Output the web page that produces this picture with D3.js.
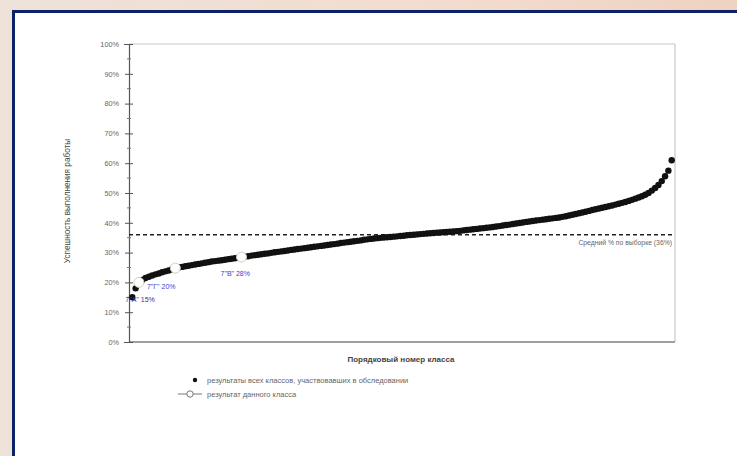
<!DOCTYPE html>
<html><head><meta charset="utf-8">
<script src="https://cdn.jsdelivr.net/npm/d3@7"></script>
<style>
html,body{margin:0;padding:0;}
body{width:737px;height:456px;overflow:hidden;background:#f0ded4;font-family:"Liberation Sans",Arial,sans-serif;}
</style></head>
<body><div id="chart"></div>
<script>
// Sorted results (%) of all classes that took part
const allResults = [
 15.0,18.0,20.0,20.8,21.5,21.9,22.3,22.7,23.0,23.4,23.7,24.0,24.4,24.8,
 25.0,25.2,25.4,25.6,25.8,26.0,26.2,26.4,26.6,26.8,27.0,27.15,27.3,27.45,27.6,27.8,27.95,28.1,28.3,28.5,
 28.65,28.8,29.0,29.15,29.3,29.45,29.6,29.75,29.9,30.1,30.25,30.4,30.55,30.7,30.9,
 31.05,31.2,31.35,31.5,31.65,31.8,31.95,32.1,32.25,32.4,32.55,32.7,32.85,33.0,33.2,
 33.35,33.5,33.65,33.8,33.95,34.1,34.3,34.45,34.6,34.75,
 34.85,34.95,35.05,35.15,35.25,35.35,35.45,35.55,35.65,35.8,
 35.9,36.0,36.1,36.2,36.3,36.4,36.5,36.6,36.7,36.75,36.85,36.95,37.0,37.1,37.2,
 37.3,37.45,37.6,37.7,37.85,37.95,38.1,38.2,38.35,38.45,38.6,
 38.75,38.9,39.1,39.25,39.4,39.6,39.75,39.95,40.1,40.3,
 40.45,40.6,40.75,40.9,41.05,41.2,41.35,41.5,41.65,41.8,
 42.0,42.2,42.45,42.7,42.95,43.2,43.45,43.7,44.0,44.3,
 44.55,44.8,45.05,45.3,45.55,45.8,46.1,46.4,46.7,47.0,
 47.35,47.7,48.1,48.5,48.9,49.4,
 50.0,50.8,51.7,52.7,
 54.0,55.6,57.5,61.0
];
// This school's classes: rank in the sorted list and result
const classRanks  = [3, 14, 34];
const classValues = [20, 24.8, 28.5];
const classLabels = ['7"Г" 20%', '', '7"В" 28%'];
const lowLabel = '7"А" 15%';
const meanValue = 36;
const meanLabel = 'Средний % по выборке (36%)';
const yTicks = [0,10,20,30,40,50,60,70,80,90,100];
const yTitle = 'Успешность выполнения работы';
const xTitle = 'Порядковый номер класса';
const legendItems = ['результаты всех классов, участвовавших в обследовании', 'результат данного класса'];

const W = 737, H = 456;
const svg = d3.select('#chart').append('svg').attr('width', W).attr('height', H);

// background frame
const defs = svg.append('defs');
const grad = defs.append('linearGradient').attr('id','bg').attr('x1',0).attr('x2',1).attr('y1',0).attr('y2',0);
grad.append('stop').attr('offset','0%').attr('stop-color','#eee2da');
grad.append('stop').attr('offset','60%').attr('stop-color','#f3dccf');
grad.append('stop').attr('offset','100%').attr('stop-color','#eed2c2');
svg.append('rect').attr('width',W).attr('height',H).attr('fill','url(#bg)');
svg.append('rect').attr('x',13.5).attr('y',11.5).attr('width',W).attr('height',H).attr('fill','#fff')
  .attr('stroke','#0c2266').attr('stroke-width',3);

const L = 129, R = 675, T = 44, B = 342;
const N = allResults.length;
const x = d3.scaleLinear().domain([0, N + 1]).range([L, R]);
const y = d3.scaleLinear().domain([0, 100]).range([B, T]);

// plot frame
svg.append('line').attr('x1',L).attr('x2',R).attr('y1',T).attr('y2',T).attr('stroke','#c8c8c8').attr('stroke-width',1.2);
svg.append('line').attr('x1',R).attr('x2',R).attr('y1',T).attr('y2',B).attr('stroke','#c8c8c8').attr('stroke-width',1.2);
svg.append('line').attr('x1',L).attr('x2',R).attr('y1',B).attr('y2',B).attr('stroke','#a0a0a0').attr('stroke-width',2);

// y axis
const yAxis = d3.axisLeft(y).tickValues(yTicks).tickFormat(d => d + '%').tickSize(5).tickPadding(5);
const ga = svg.append('g').attr('transform',`translate(${L},0)`).call(yAxis);
ga.select('.domain').attr('stroke','#555').attr('stroke-width',1.2);
ga.selectAll('.tick line').attr('stroke','#555').attr('x2',4).attr('x1',-4);
ga.selectAll('.tick text').attr('fill','#666').attr('font-size',7.3).attr('font-family','"Liberation Sans",Arial');
// minor ticks
svg.append('g').selectAll('line').data(d3.range(5,100,10)).join('line')
  .attr('x1',L-2).attr('x2',L+2).attr('y1',d=>y(d)).attr('y2',d=>y(d)).attr('stroke','#777');

// mean dashed line
svg.append('line').attr('x1',L).attr('x2',R).attr('y1',y(meanValue)).attr('y2',y(meanValue))
  .attr('stroke','#222').attr('stroke-width',1.6).attr('stroke-dasharray','4,3');
svg.append('text').attr('x',R-3).attr('y',y(meanValue)+10).attr('text-anchor','end')
  .attr('font-size',6.8).attr('fill','#666').text(meanLabel);

// all results
svg.append('g').selectAll('circle').data(allResults).join('circle')
  .attr('cx',(d,i)=>x(i+1)).attr('cy',d=>y(d)).attr('r',3.2).attr('fill','#111');

// this school's classes
const cls = classRanks.map((r,i)=>({r, v:classValues[i], label:classLabels[i]}));
svg.append('g').selectAll('circle').data(cls).join('circle')
  .attr('cx',d=>x(d.r)).attr('cy',d=>y(d.v)).attr('r',5)
  .attr('fill','#fff').attr('stroke','#d0d0b8').attr('stroke-width',1);
svg.append('g').selectAll('text').data(cls.filter(d=>d.label)).join('text')
  .attr('x',(d,i)=> i===0 ? x(d.r)+8 : x(d.r)-21)
  .attr('y',(d,i)=> i===0 ? y(d.v)+7 : y(d.v)+19)
  .attr('font-size',7).attr('fill','#4040cc').text(d=>d.label);
svg.append('text').attr('x',x(1)-7).attr('y',y(allResults[0])+5)
  .attr('font-size',7).attr('fill','#3030b0').text(lowLabel);

// y title
svg.append('text').attr('transform',`translate(70,${(T+B)/2+8}) rotate(-90)`).attr('text-anchor','middle')
  .attr('font-size',8.2).attr('fill','#444').text(yTitle);
// x title
svg.append('text').attr('x',401).attr('y',362).attr('text-anchor','middle').attr('font-size',8)
  .attr('font-weight','bold').attr('fill','#444').text(xTitle);

// legend
svg.append('circle').attr('cx',195).attr('cy',380).attr('r',2.2).attr('fill','#111');
svg.append('line').attr('x1',178).attr('x2',202).attr('y1',394).attr('y2',394).attr('stroke','#777').attr('stroke-width',1);
svg.append('circle').attr('cx',190).attr('cy',394).attr('r',3.2).attr('fill','#fff').attr('stroke','#777');
svg.append('g').selectAll('text').data(legendItems).join('text')
  .attr('x',207).attr('y',(d,i)=>383 + i*14).attr('font-size',7.5).attr('fill','#666').text(d=>d);
</script>
</body></html>
